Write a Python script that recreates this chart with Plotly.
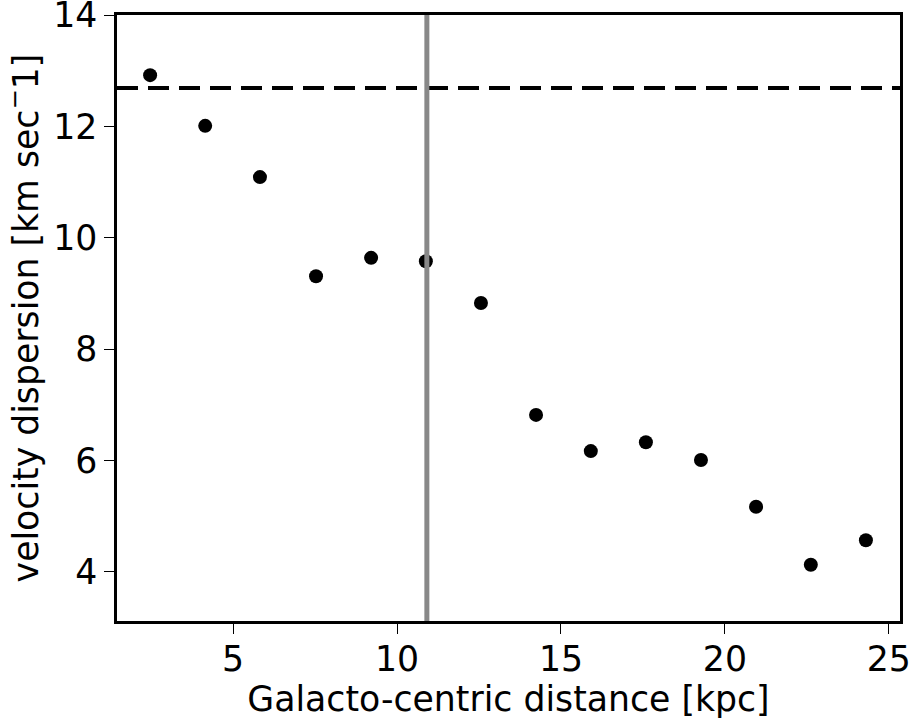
import plotly.graph_objects as go

distance_kpc = [2.47, 4.15, 5.82, 7.53, 9.21, 10.88, 12.56, 14.24, 15.91, 17.59, 19.27, 20.95, 22.62, 24.30]
velocity_dispersion = [12.92, 12.01, 11.09, 9.31, 9.64, 9.58, 8.83, 6.82, 6.17, 6.33, 6.01, 5.17, 4.13, 4.57]
hline_value = 12.69
vline_value = 10.91
x_ticks = [5, 10, 15, 20, 25]
y_ticks = [4, 6, 8, 10, 12, 14]

fig = go.Figure()
fig.add_trace(go.Scatter(x=distance_kpc, y=velocity_dispersion, mode="markers",
                         marker=dict(color="black", size=14), showlegend=False))
fig.add_hline(y=hline_value, line=dict(color="black", width=4, dash="21px,10px"))
fig.add_vline(x=vline_value, line=dict(color="#888888", width=5))

font = "DejaVu Sans"
fs = 34.7
fig.update_layout(
    width=911, height=719,
    margin=dict(l=117, r=11, t=15, b=98),
    plot_bgcolor="white", paper_bgcolor="white",
    font=dict(family=font, size=fs, color="black"),
)
fig.update_xaxes(range=[1.46, 25.34], tickvals=x_ticks, ticks="outside", ticklen=10, tickwidth=1.2,
                 tickcolor="black", showline=True, linewidth=2.5, linecolor="black", mirror=True,
                 showgrid=False, zeroline=False, tickfont=dict(size=fs), automargin=False,
                 ticklabeloverflow="allow", ticklabelstandoff=-4,
                 title=dict(text="Galacto-centric distance [kpc]", font=dict(size=fs), standoff=4))
fig.update_yaxes(range=[3.12, 14], tickvals=y_ticks, ticks="outside", ticklen=10, tickwidth=1.2,
                 tickcolor="black", showline=True, linewidth=2.5, linecolor="black", mirror=True,
                 showgrid=False, zeroline=False, tickfont=dict(size=fs), automargin="left",
                 ticklabeloverflow="allow",
                 title=dict(text="velocity dispersion [km sec<sup>−</sup>1]", font=dict(size=fs), standoff=14))
fig.write_html("out.html")
